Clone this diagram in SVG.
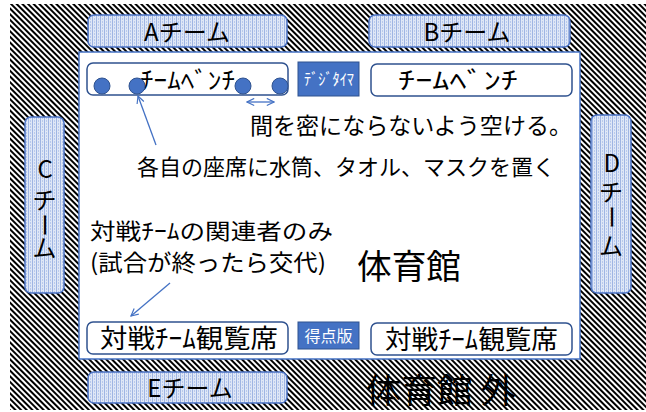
<svg xmlns="http://www.w3.org/2000/svg" width="646" height="412" viewBox="0 0 646 412">
<defs>
<pattern id="hatch" width="4" height="4" patternUnits="userSpaceOnUse" patternTransform="rotate(-45)">
<rect width="4" height="4" fill="#ffffff"/>
<rect width="2" height="4" fill="#000000"/>
</pattern>
<pattern id="team" width="4" height="3" patternUnits="userSpaceOnUse">
<rect width="4" height="3" fill="#dfe7f6"/>
<rect x="0" width="1" height="3" fill="#9fb5e3"/>
<rect x="2" width="1" height="2" fill="#b8c9ec"/>
</pattern>
<marker id="arr" viewBox="0 0 10 10" refX="9" refY="5" markerWidth="9" markerHeight="9" orient="auto-start-reverse" markerUnits="userSpaceOnUse">
<path d="M1,1 L9,5 L1,9" fill="none" stroke="#4472C4" stroke-width="1.3"/>
</marker>
</defs>
<style>
.txt{font-family:"Noto Sans CJK JP","Noto Sans",sans-serif;fill:#000}
.teambox{fill:url(#team);stroke:#4a72c4;stroke-width:1.5}
.bench{fill:#fff;stroke:#2f528f;stroke-width:1.5}
.blue{fill:#4472C4;stroke:#2f528f;stroke-width:1}
.seat{fill:#4472C4;stroke:#2f528f;stroke-width:1}
.wt{font-family:"Noto Sans CJK JP",sans-serif;fill:#fff}
.conn{stroke:#4472C4;stroke-width:1.3;fill:none}
</style>
<rect x="0" y="0" width="646" height="412" fill="#fff"/>
<rect x="10" y="4" width="636" height="406" fill="url(#hatch)"/>
<g id="gym">
<rect x="79" y="52" width="501" height="307" fill="#fff" stroke="#4472C4" stroke-width="1.5"/>
<text class="txt" x="357" y="279" font-size="34" textLength="104" lengthAdjust="spacingAndGlyphs">体育館</text>
</g>
<g id="outside">
<text class="txt" x="366" y="403" font-size="34" textLength="150" lengthAdjust="spacingAndGlyphs">体育館 外</text>
</g>
<g id="teamA">
<rect class="teambox" x="88" y="15" width="199" height="32" rx="6"/>
<text class="txt" x="187" y="41" font-size="24" text-anchor="middle">Aチーム</text>
</g>
<g id="teamB">
<rect class="teambox" x="369" y="15" width="201" height="32" rx="6"/>
<text class="txt" x="467" y="41" font-size="24" text-anchor="middle">Bチーム</text>
</g>
<g id="teamC">
<rect class="teambox" x="25" y="117" width="39" height="176" rx="6"/>
<text class="txt" font-size="24" x="37.5 32.5 36 32.5" y="178 209 213 257" rotate="0 0 90 0">Cチーム</text>
</g>
<g id="teamD">
<rect class="teambox" x="591" y="115" width="40" height="178" rx="6"/>
<text class="txt" font-size="24" x="603.5 599 602.5 599" y="172 201 205 255" rotate="0 0 90 0">Dチーム</text>
</g>
<g id="teamE">
<rect class="teambox" x="88" y="372" width="199" height="31" rx="6"/>
<text class="txt" x="190" y="397" font-size="24" text-anchor="middle">Eチーム</text>
</g>
<g id="benchL">
<rect class="bench" x="87" y="63" width="201" height="32" rx="6"/>
<text class="txt" x="140" y="89" font-size="24" textLength="95" lengthAdjust="spacingAndGlyphs">ﾁｰﾑﾍﾞﾝﾁ</text>
<circle class="seat" cx="102" cy="86" r="8"/>
<circle class="seat" cx="137" cy="86" r="8"/>
<circle class="seat" cx="243" cy="86" r="8"/>
<circle class="seat" cx="280" cy="86" r="8"/>
</g>
<g id="timer">
<rect class="blue" x="298" y="62" width="61" height="34"/>
<text class="wt" x="304" y="85" font-size="16" textLength="50" lengthAdjust="spacingAndGlyphs">ﾃﾞｼﾞﾀｲﾏ</text>
</g>
<g id="benchR">
<rect class="bench" x="371" y="64" width="201" height="32" rx="6"/>
<text class="txt" x="398" y="89" font-size="24" textLength="120" lengthAdjust="spacingAndGlyphs">ﾁｰﾑﾍﾞﾝﾁ</text>
</g>
<g id="seatsL">
<rect class="bench" x="87" y="322" width="201" height="32" rx="6"/>
<text class="txt" x="100" y="348" font-size="26" textLength="178" lengthAdjust="spacingAndGlyphs">対戦ﾁｰﾑ観覧席</text>
</g>
<g id="score">
<rect class="blue" x="298" y="322" width="61" height="27"/>
<text class="wt" x="328.5" y="342" font-size="16" text-anchor="middle">得点版</text>
</g>
<g id="seatsR">
<rect class="bench" x="371" y="323" width="201" height="32" rx="6"/>
<text class="txt" x="385" y="349" font-size="26" textLength="173" lengthAdjust="spacingAndGlyphs">対戦ﾁｰﾑ観覧席</text>
</g>
<g id="notes">
<text class="txt" x="250" y="134" font-size="23" textLength="322" lengthAdjust="spacingAndGlyphs">間を密にならないよう空ける。</text>
<text class="txt" x="137" y="175" font-size="22" textLength="418" lengthAdjust="spacingAndGlyphs">各自の座席に水筒、タオル、マスクを置く</text>
<text class="txt" x="90" y="239" font-size="22" textLength="243" lengthAdjust="spacingAndGlyphs">対戦ﾁｰﾑの関連者のみ</text>
<text class="txt" x="90" y="271" font-size="23" textLength="236" lengthAdjust="spacingAndGlyphs">(試合が終ったら交代)</text>
</g>
<g id="connectors">
<line class="conn" x1="156" y1="145" x2="138" y2="96" marker-end="url(#arr)"/>
<line class="conn" x1="170" y1="283" x2="131" y2="316" marker-end="url(#arr)"/>
<line class="conn" x1="247" y1="102" x2="274" y2="102" marker-start="url(#arr)" marker-end="url(#arr)"/>
</g>
</svg>
